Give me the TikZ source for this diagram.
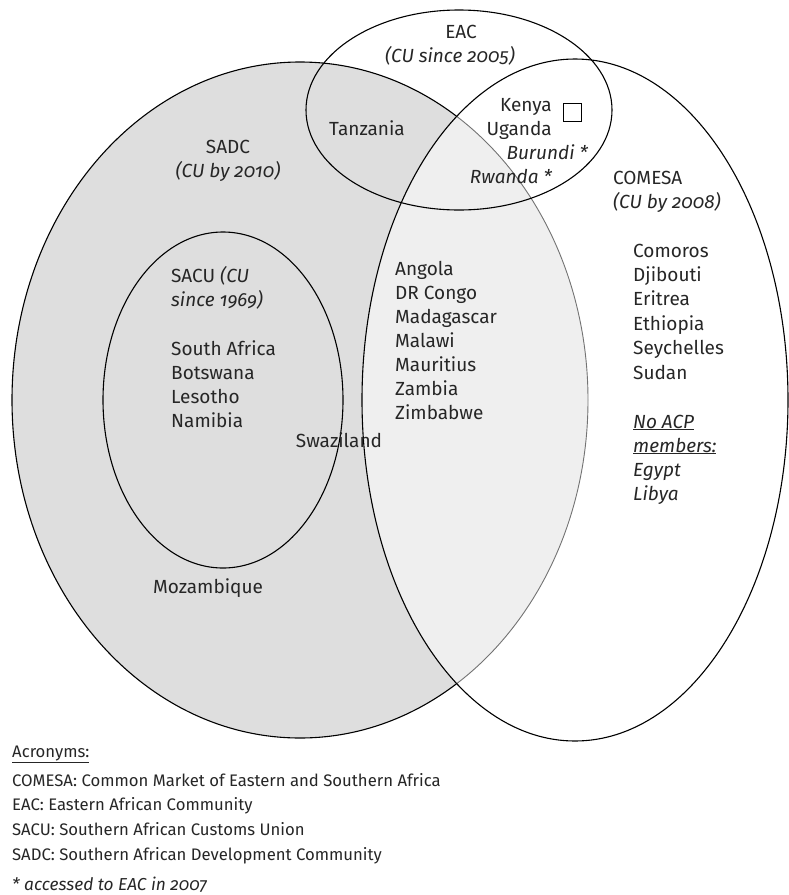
\documentclass[tikz,border=0pt]{standalone}
\usepackage{fontspec}
\setmainfont{Fira Sans}[Numbers=OldStyle]
\usepackage{xcolor}
\definecolor{sadcgrey}{HTML}{DEDEDE}
\definecolor{overlapgrey}{HTML}{EFEFEF}
\definecolor{inkgrey}{HTML}{262626}
\newcommand{\sadcring}{(300,400) ellipse [x radius=288pt,y radius=338pt]}
\newcommand{\comesaring}{(575,400) ellipse [x radius=213pt,y radius=341pt]}
\newcommand{\eacring}{(459,110) ellipse [x radius=153pt,y radius=100pt]}
\newcommand{\sacuring}{(223,400) ellipse [x radius=120pt,y radius=168pt]}
\tikzset{
  ring/.style={line width=1.1pt,draw=black},
  lbl/.style={inner sep=0pt,text=inkgrey,font=\fontsize{19}{22}\selectfont},
  country/.style={lbl,anchor=base west},
  title/.style={lbl,anchor=base},
  legend/.style={country,font=\fontsize{16.7}{20}\selectfont},
}

\begin{document}
\begin{tikzpicture}[x=1pt,y=-1pt]
  \useasboundingbox (0,0) rectangle (788,895);
  % fills
  \fill[sadcgrey] \sadcring;
  \begin{scope}
    \clip \comesaring;
    \fill[overlapgrey] \sadcring;
    \draw[ring,draw=black!55,line width=0.9pt] \sadcring;
  \end{scope}
  \begin{scope}[even odd rule]
    \clip (-5,-5) rectangle (793,900) \comesaring;
    \draw[ring] \sadcring;
  \end{scope}
  \draw[ring] \comesaring;
  \draw[ring] \eacring;
  \draw[ring] \sacuring;
  \draw[line width=1pt] (563,103) rectangle (581,121);

  % EAC
  \node[title] (eac) at (461,38) {EAC};
  \node[title] (eacsub) at (450,62) {\itshape (CU since 2005)};
  \node[title] (tza) at (367,135) {Tanzania};
  \foreach \x/\y/\n/\c in {552/111/Kenya/ken, 552/135/Uganda/uga,
      588/159/\itshape Burundi */bdi, 552/183/\itshape Rwanda */rwa}
    \node[lbl,anchor=base east] (\c) at (\x,\y) {\n};

  % SADC and SACU
  \node[title] (sadc) at (228,153) {SADC};
  \node[title] (sadcsub) at (228,177) {\itshape (CU by 2010)};
  \node[country] (sacu) at (171,282) {SACU \itshape (CU};
  \node[country] (sacusub) at (171,306) {\itshape since 1969)};
  \foreach \n [count=\i from 0] in {South Africa, Botswana, Lesotho, Namibia}
    \node[country] (sacu-\i) at (171,355+24*\i) {\n};
  \node[title] (swz) at (339,447) {Swaziland};
  \node[title] (moz) at (208,593) {Mozambique};
  \foreach \n [count=\i from 0] in {Angola, DR Congo, Madagascar, Malawi,
      Mauritius, Zambia, Zimbabwe}
    \node[country] (both-\i) at (395,275+24*\i) {\n};

  % COMESA
  \node[country] (comesa) at (613,184) {COMESA};
  \node[country] (comesasub) at (613,208) {\itshape (CU by 2008)};
  \foreach \n [count=\i from 0] in {Comoros, Djibouti, Eritrea, Ethiopia,
      Seychelles, Sudan}
    \node[country] (com-\i) at (633,257+24.4*\i) {\n};
  \node[country] (noacp) at (633,428) {\itshape\underline{No ACP}};
  \node[country] (noacp2) at (633,452) {\itshape\underline{members:}};
  \node[country] (egy) at (633,476) {\itshape Egypt};
  \node[country] (lby) at (633,500) {\itshape Libya};

  % acronyms
  \node[legend] (acr) at (12,757) {\underline{Acronyms:}};
  \foreach \t [count=\i from 0] in {COMESA: Common Market of Eastern and Southern Africa,
      EAC: Eastern African Community, SACU: Southern African Customs Union,
      SADC: Southern African Development Community}
    \node[legend] (acr-\i) at (12,786+24.7*\i) {\t};
  \node[legend,font=\fontsize{17.3}{20}\selectfont] (note) at (12,890) {\itshape * accessed to EAC in 2007};
\end{tikzpicture}
\end{document}
